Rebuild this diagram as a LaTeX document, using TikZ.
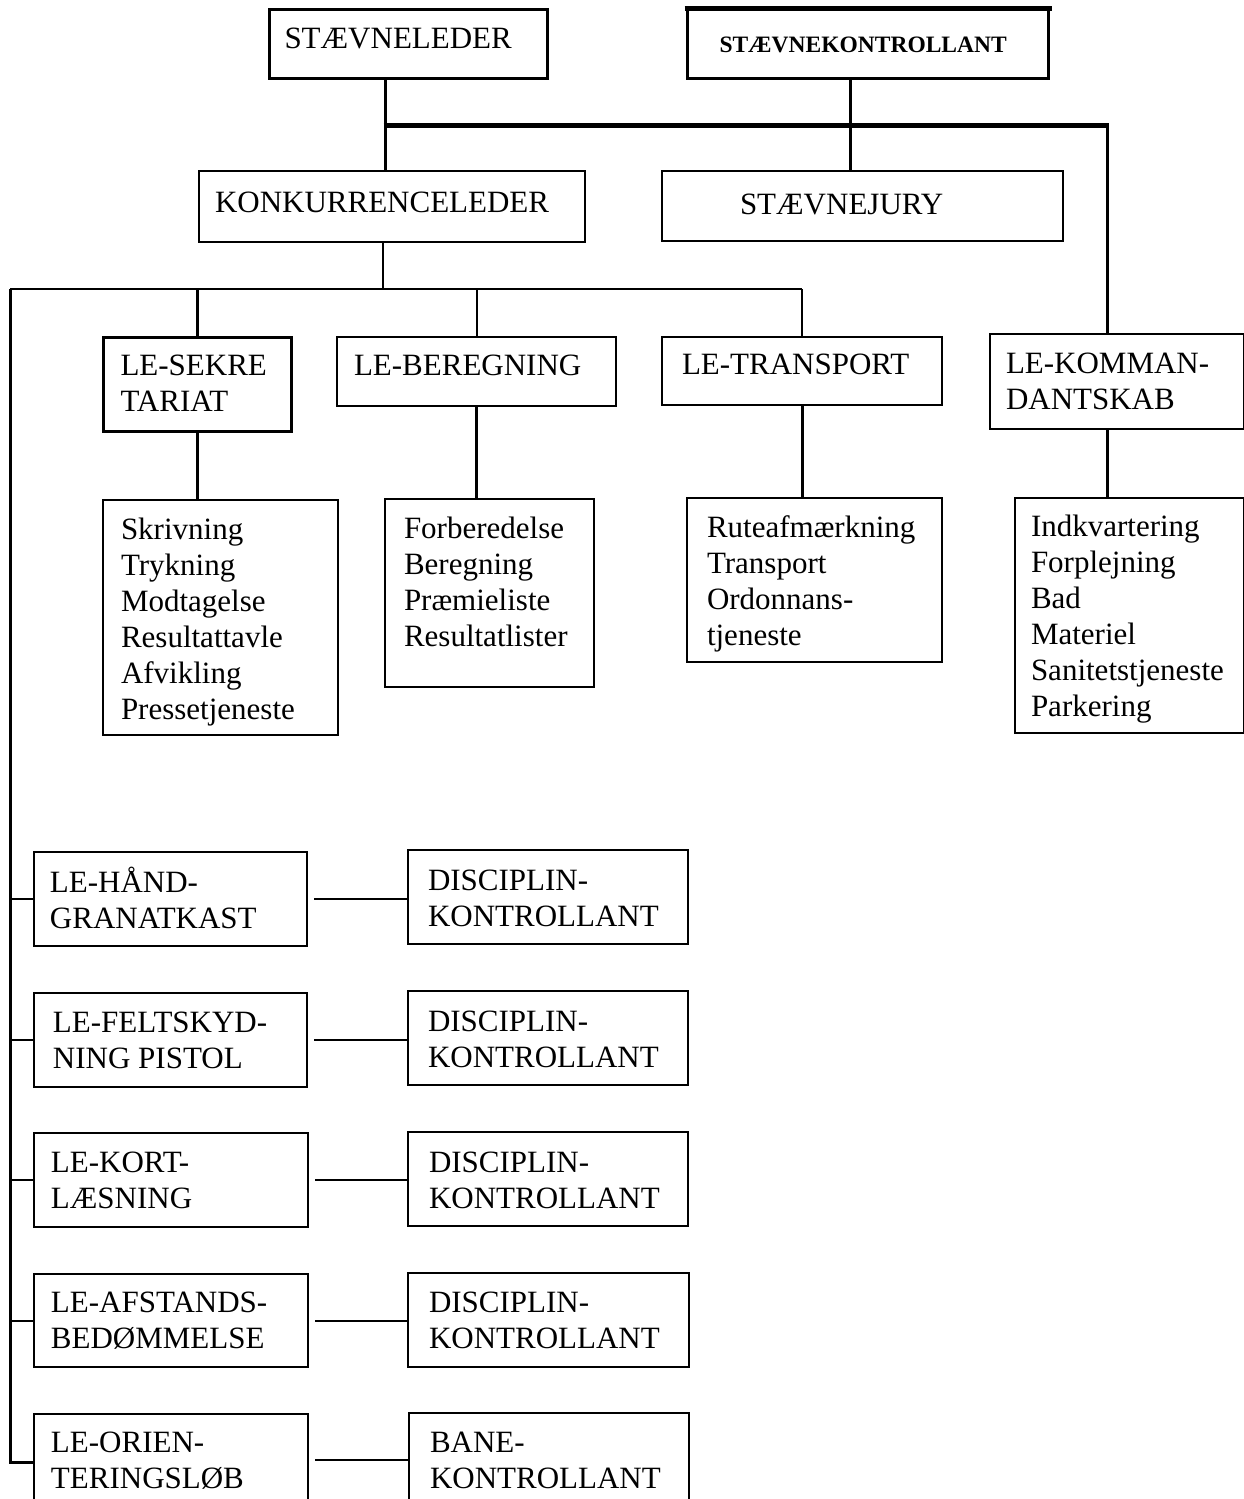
\documentclass[tikz,border=0pt]{standalone}
\usepackage{fontspec}
\setmainfont{Liberation Serif}
\tikzset{
  bx/.style={draw=black, line width=2pt, inner sep=0pt, anchor=north west, fill=white},
  bxthick/.style={bx, line width=3pt},
  ln2/.style={draw=black, line width=2pt},
  ln3/.style={draw=black, line width=3pt},
  ln5/.style={draw=black, line width=5pt},
}
% #1 name, #2 x1, #3 y1, #4 x2, #5 y2, #6 text left offset, #7 first baseline (abs y), #8 text, #9 style
\newcommand{\OrgBox}[9]{%
  \node[#9] (#1) at (#2,#3) {\parbox[c][\dimexpr #5pt-#3pt\relax][t]{\dimexpr #4pt-#2pt\relax}{%
    \raggedright\leftskip=\dimexpr #6pt-#2pt\relax
    \vspace*{\dimexpr #7pt-#3pt-30pt\relax}\rule{0pt}{30pt}#8\par}};}
\newcommand{\BigF}{\fontsize{31}{36}\selectfont}
\begin{document}
\begin{tikzpicture}[x=1pt,y=-1pt]
\useasboundingbox (0,0) rectangle (1244,1499);
\fill[white] (0,0) rectangle (1244,1499);
\clip (0,0) rectangle (1244,1499);
\BigF
% top level
\OrgBox{sl}{268}{8}{546}{77}{283}{47}{STÆVNELEDER}{bxthick}
\OrgBox{sk}{686}{8}{1047}{77}{718}{51}{{\fontsize{23.5}{28}\selectfont\bfseries STÆVNEKONTROLLANT}}{bxthick}
\draw[line width=5pt] ([xshift=-1.5pt]sk.north west) -- ([xshift=1.5pt]sk.north east);
\OrgBox{kl}{198}{170}{584}{241}{214}{211}{KONKURRENCELEDER}{bx}
\OrgBox{sj}{661}{170}{1062}{240}{739}{213}{STÆVNEJURY}{bx}
% second level
\OrgBox{les}{102}{336}{290}{430}{119}{374}{LE-SEKRE\\TARIAT}{bxthick}
\OrgBox{leb}{336}{336}{615}{405}{353}{374}{LE-BEREGNING}{bx}
\OrgBox{let}{661}{336}{941}{404}{681}{373}{LE-TRANSPORT}{bx}
\OrgBox{lek}{989}{333}{1243}{428}{1005}{372}{LE-KOMMAN-\\DANTSKAB}{bx}
% task boxes
\OrgBox{ta}{102}{499}{337}{734}{120}{538}{Skrivning\\Trykning\\Modtagelse\\Resultattavle\\Afvikling\\Pressetjeneste}{bx}
\OrgBox{tb}{384}{498}{593}{686}{403}{537}{Forberedelse\\Beregning\\Præmieliste\\Resultatlister}{bx}
\OrgBox{tc}{686}{497}{941}{661}{706}{536}{Ruteafmærkning\\Transport\\Ordonnans-\\tjeneste}{bx}
\OrgBox{td}{1014}{497}{1243}{732}{1030}{535}{Indkvartering\\Forplejning\\Bad\\Materiel\\Sanitetstjeneste\\Parkering}{bx}
% discipline rows
\OrgBox{ra}{33}{851}{306}{945}{49}{891}{LE-HÅND-\\GRANATKAST}{bx}
\OrgBox{rb}{33}{992}{306}{1086}{52}{1031}{LE-FELTSKYD-\\NING PISTOL}{bx}
\OrgBox{rc}{33}{1132}{307}{1226}{50}{1171}{LE-KORT-\\LÆSNING}{bx}
\OrgBox{rd}{33}{1273}{307}{1366}{50}{1311}{LE-AFSTANDS-\\BEDØMMELSE}{bx}
\OrgBox{re}{33}{1413}{307}{1510}{50}{1451}{LE-ORIEN-\\TERINGSLØB}{bx}
\OrgBox{ca}{407}{849}{687}{943}{427}{889}{DISCIPLIN-\\KONTROLLANT}{bx}
\OrgBox{cb}{407}{990}{687}{1084}{427}{1030}{DISCIPLIN-\\KONTROLLANT}{bx}
\OrgBox{cc}{407}{1131}{687}{1225}{428}{1171}{DISCIPLIN-\\KONTROLLANT}{bx}
\OrgBox{cd}{407}{1272}{688}{1366}{428}{1311}{DISCIPLIN-\\KONTROLLANT}{bx}
\OrgBox{ce}{408}{1412}{688}{1510}{429}{1451}{BANE-\\KONTROLLANT}{bx}
% junction coordinates
\coordinate (ja) at (385,125);
\coordinate (jb) at (850,125);
\coordinate (jc) at (1107,125);
\coordinate (kd) at (383,289);
\coordinate (bl) at (10,289);
\coordinate (br) at (802,289);
% upper connectors
\draw[ln3] (sl.south -| ja) -- (kl.north -| ja);
\draw[ln3] (sk.south -| jb) -- (sj.north -| jb);
\draw[ln5] ([xshift=-1.5pt]ja) -- ([xshift=1.5pt]jc);
\draw[ln3] (jc) -- (lek.north -| jc);
\draw[ln2] (kl.south -| kd) -- (kd);
\draw[ln2] (bl) -- (br);
\draw[ln3] (les.north |- bl) -- (les.north);
\draw[ln2] (leb.north |- bl) -- (leb.north);
\draw[ln2] (br) -- (let.north -| br);
\draw[ln3] (les.south) -- (les.south |- ta.north);
\draw[ln3] (leb.south) -- (leb.south |- tb.north);
\draw[ln3] (let.south -| br) -- (tc.north -| br);
\draw[ln3] (lek.south -| jc) -- (td.north -| jc);
% left spine
\draw[ln3,line join=miter] (bl) -- (bl |- re.west) -- (re.west);
\foreach \r in {ra,rb,rc,rd}{\draw[ln2] (bl |- \r.west) -- (\r.west);}
% horizontal connectors
\draw[ln2,shorten <=6pt] (ra.east) -- (ra.east -| ca.west);
\draw[ln2,shorten <=6pt] (rb.east) -- (rb.east -| cb.west);
\draw[ln2,shorten <=6pt] (rc.east) -- (rc.east -| cc.west);
\draw[ln2,shorten <=6pt] (rd.east) -- (rd.east -| cd.west);
\draw[ln2,shorten <=6pt] (re.east |- 0,1460) -- (ce.west |- 0,1460);
\end{tikzpicture}
\end{document}
